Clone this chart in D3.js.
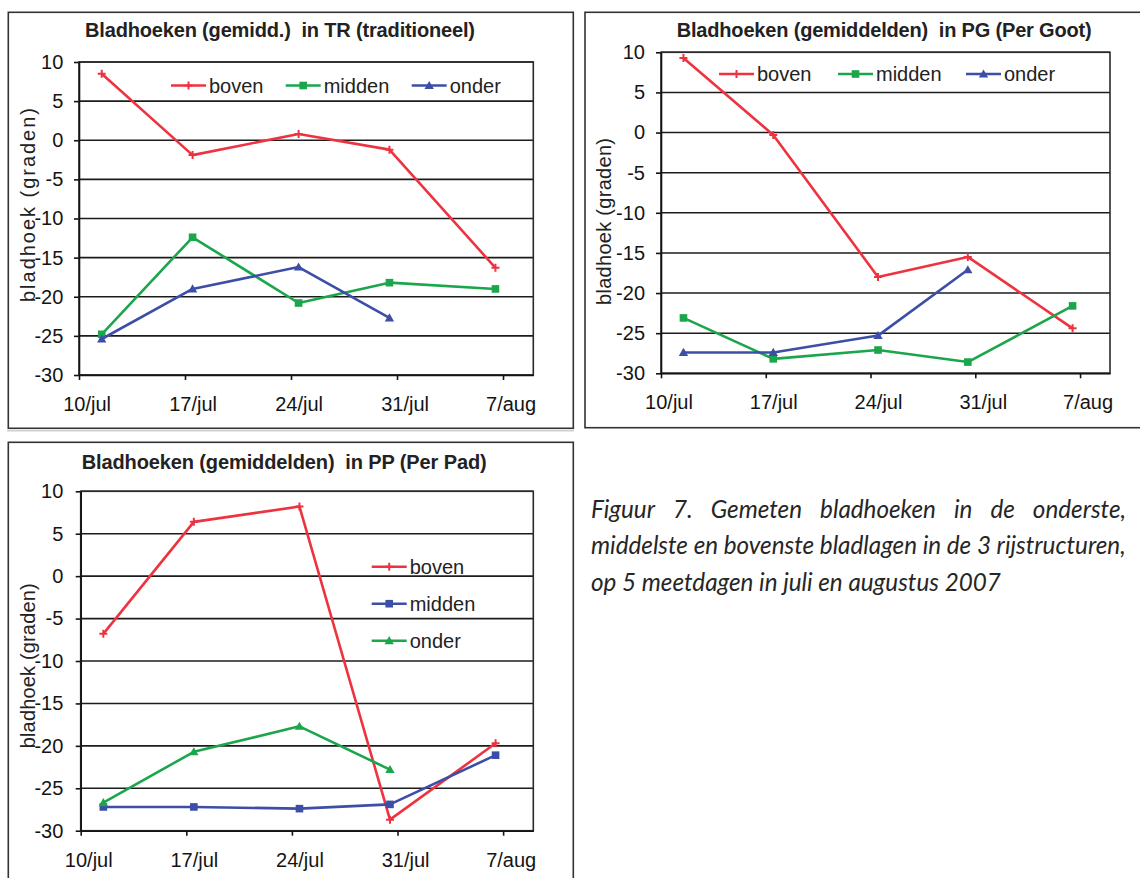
<!DOCTYPE html>
<html><head><meta charset="utf-8">
<script src="https://cdn.jsdelivr.net/npm/d3@7"></script>
<style>body{margin:0;background:#fff} svg{display:block} text.t{white-space:pre}</style>
</head><body><svg id="c" width="1140" height="878"></svg>
<script>
// ---------- data ----------
const dates = ["2007-07-11","2007-07-17","2007-07-24","2007-07-30","2007-08-06"];
const axisStart = "2007-07-10", axisEnd = "2007-08-09";
const tickDates = ["2007-07-10","2007-07-17","2007-07-24","2007-07-31","2007-08-07"];
const tickLabels = ["10/jul","17/jul","24/jul","31/jul","7/aug"];
const yTicks = [10,5,0,-5,-10,-15,-20,-25,-30];
const seriesNames = ["boven","midden","onder"];

const trBoven  = [8.5, -1.9, 0.8, -1.2, -16.3];
const trMidden = [-24.8, -12.4, -20.8, -18.2, -19.0];
const trOnder  = [-25.4, -19.0, -16.2, -22.7, null];

const pgBoven  = [9.3, -0.3, -18.0, -15.5, -24.4];
const pgMidden = [-23.1, -28.2, -27.1, -28.6, -21.6];
const pgOnder  = [-27.4, -27.4, -25.3, -17.1, null];

const ppBoven  = [-6.8, 6.4, 8.2, -28.7, -19.7];
const ppMidden = [-27.2, -27.2, -27.4, -26.9, -21.1];
const ppOnder  = [-26.7, -20.7, -17.7, -22.8, null];

const titles = [
  "Bladhoeken (gemidd.)  in TR (traditioneel)",
  "Bladhoeken (gemiddelden)  in PG (Per Goot)",
  "Bladhoeken (gemiddelden)  in PP (Per Pad)"
];
const yLabel = "bladhoek (graden)";
const captionLines = [
  "Figuur 7. Gemeten bladhoeken in de onderste,",
  "middelste en bovenste bladlagen in de 3 rijstructuren,",
  "op 5 meetdagen in juli en augustus 2007"
];

// ---------- styles ----------
const RED = "#ee3340", GREEN = "#1ba64c", BLUE = "#3d4ea6";
const FONT = "'Liberation Sans', Arial, sans-serif";
const svg = d3.select("#c");
const parse = d3.utcParse("%Y-%m-%d");
const HALF = 12 * 3600 * 1000;

function marker(g, type, color, cx, cy) {
  if (type === "plus") {
    g.append("path").attr("d", `M${cx-4},${cy}H${cx+4}M${cx},${cy-4}V${cy+4}`)
      .attr("stroke", color).attr("stroke-width", 2).attr("fill", "none");
  } else if (type === "square") {
    g.append("rect").attr("x", cx-3.8).attr("y", cy-3.8).attr("width", 7.6).attr("height", 7.6).attr("fill", color);
  } else {
    g.append("path").attr("d", d3.symbol(d3.symbolTriangle, 38)())
      .attr("transform", `translate(${cx},${cy+0.8})`).attr("fill", color);
  }
}

function drawChart(c) {
  const g = svg.append("g");
  const [L, T, R, B] = c.plot;
  g.append("rect").attr("x", c.frame[0]).attr("y", c.frame[1])
    .attr("width", c.frame[2]-c.frame[0]).attr("height", c.frame[3]-c.frame[1])
    .attr("fill", "#fff").attr("stroke", "#333").attr("stroke-width", 1.6);

  const x = d3.scaleUtc().domain([parse(axisStart), parse(axisEnd)]).range([L, R]);
  const y = d3.scaleLinear().domain([-30, 10]).range([B, T]);
  const halfPx = x(new Date(parse(axisStart).getTime() + HALF)) - L;

  // grid
  g.append("g").selectAll("line").data(yTicks).join("line")
    .attr("x1", L).attr("x2", R).attr("y1", d => y(d)).attr("y2", d => y(d))
    .attr("stroke", "#1c1c1c").attr("stroke-width", 1.6);
  g.append("rect").attr("x", L).attr("y", T).attr("width", R-L).attr("height", B-T)
    .attr("fill", "none").attr("stroke", "#2a2a2a").attr("stroke-width", 1.6);

  // y axis
  const ya = g.append("g").attr("transform", `translate(${L},0)`)
    .call(d3.axisLeft(y).tickValues(yTicks).tickSize(5).tickSizeOuter(0).tickPadding(c.yPad).tickFormat(d => String(d)));
  ya.attr("font-size", 20).attr("font-family", FONT).attr("color", "#141414");
  ya.selectAll("line,path").attr("stroke-width", 1.6);

  // x axis
  const xa = g.append("g").attr("transform", `translate(0,${B})`)
    .call(d3.axisBottom(x).tickValues(tickDates.map(parse)).tickSize(5).tickSizeOuter(0).tickFormat((d, i) => tickLabels[i]));
  xa.attr("font-size", 20).attr("font-family", FONT).attr("color", "#141414");
  xa.selectAll("line,path").attr("stroke-width", 1.6);
  xa.selectAll("text").attr("x", halfPx).attr("y", 36).attr("dy", null);

  // title
  g.append("text").attr("class", "t").attr("x", c.title[0]).attr("y", c.title[1]).attr("textLength", c.title[2])
    .attr("font-family", FONT).attr("font-weight", "bold").attr("font-size", 20).attr("fill", "#222")
    .text(c.titleText);

  // y label
  g.append("text").attr("transform", `translate(${c.ylab[0]},${c.ylab[1]}) rotate(-90)`)
    .attr("text-anchor", "middle").attr("textLength", c.ylab[2])
    .attr("font-family", FONT).attr("font-size", 20).attr("fill", "#222").text(yLabel);

  // series
  const line = d3.line().defined(d => d.v != null)
    .x(d => x(new Date(parse(d.date).getTime() + HALF))).y(d => y(d.v));
  c.series.forEach(s => {
    const pts = dates.map((dt, i) => ({date: dt, v: s.values[i]}));
    g.append("path").datum(pts).attr("d", line).attr("fill", "none")
      .attr("stroke", s.color).attr("stroke-width", 2.6).attr("stroke-linejoin", "round");
    pts.filter(p => p.v != null).forEach(p =>
      marker(g, s.marker, s.color, x(new Date(parse(p.date).getTime() + HALF)), y(p.v)));
  });

  // legend
  c.series.forEach((s, i) => {
    const [lx, ly] = c.legend[i];
    g.append("line").attr("x1", lx).attr("x2", lx + 35).attr("y1", ly).attr("y2", ly)
      .attr("stroke", s.color).attr("stroke-width", 2.6);
    marker(g, s.marker, s.color, lx + 17.5, ly);
    g.append("text").attr("x", lx + 38).attr("y", ly).attr("dy", "0.35em")
      .attr("font-family", FONT).attr("font-size", 20).attr("fill", "#222").text(seriesNames[i]);
  });
}

// separator line
svg.append("line").attr("x1", 7).attr("x2", 574).attr("y1", 430.8).attr("y2", 430.8)
  .attr("stroke", "#cfcfcf").attr("stroke-width", 1.6);

drawChart({
  frame: [8.3, 12.3, 573.3, 428.3], plot: [79, 62, 533.3, 375], yPad: 10.7,
  title: [85, 37, 390], titleText: titles[0], ylab: [34.5, 205, 194],
  series: [
    {values: trBoven, color: RED, marker: "plus"},
    {values: trMidden, color: GREEN, marker: "square"},
    {values: trOnder, color: BLUE, marker: "triangle"}],
  legend: [[171, 85.5], [285.7, 85.5], [411.7, 85.5]]
});
drawChart({
  frame: [585, 12.3, 1150, 427.7], plot: [661, 52.3, 1110, 373.3], yPad: 11,
  title: [676.7, 37, 415], titleText: titles[1], ylab: [611, 221.5, 167],
  series: [
    {values: pgBoven, color: RED, marker: "plus"},
    {values: pgMidden, color: GREEN, marker: "square"},
    {values: pgOnder, color: BLUE, marker: "triangle"}],
  legend: [[719, 74], [838, 74], [966, 74]]
});
drawChart({
  frame: [8.3, 442.3, 573.3, 900], plot: [80.7, 491.3, 533.3, 830.7], yPad: 12.4,
  title: [81.7, 469, 405], titleText: titles[2], ylab: [35, 665.8, 165],
  series: [
    {values: ppBoven, color: RED, marker: "plus"},
    {values: ppMidden, color: BLUE, marker: "square"},
    {values: ppOnder, color: GREEN, marker: "triangle"}],
  legend: [[371.7, 566.7], [371.7, 603.7], [371.7, 640.7]]
});

// caption (horizontally condensed via a scale transform)
(function () {
  const CF = "Lato, 'Open Sans', Roboto, sans-serif";
  const fs = 26, x0 = 591;
  const base = [518, 554.5, 591];
  const targets = [1126, 1126];
  const cap = svg.append("g").attr("font-family", CF).attr("font-style", "italic")
    .attr("font-weight", 400).attr("font-size", fs).attr("fill", "#262626");
  const probe = cap.append("text").text(captionLines[1]);
  const k = (targets[1] - x0) / probe.node().getComputedTextLength();
  probe.remove();
  cap.attr("transform", `translate(${x0},0) scale(${k},1)`);
  // line 1: justified word by word (in unscaled coordinates)
  const words = captionLines[0].split(" ");
  const widths = words.map(w => {
    const t = cap.append("text").text(w);
    const wd = t.node().getComputedTextLength(); t.remove(); return wd;
  });
  const span = (targets[0] - x0) / k;
  const gap = (span - d3.sum(widths)) / (words.length - 1);
  let cx = 0;
  words.forEach((w, i) => {
    cap.append("text").attr("x", cx).attr("y", base[0]).text(w);
    cx += widths[i] + gap;
  });
  [1, 2].forEach(i => cap.append("text").attr("x", 0).attr("y", base[i]).text(captionLines[i]));
})();
</script></body></html>
